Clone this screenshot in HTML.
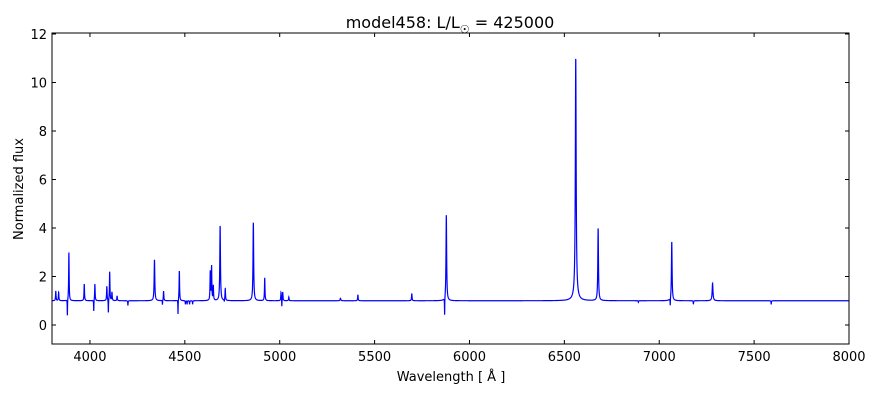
<!DOCTYPE html>
<html><head><meta charset="utf-8"><style>
body{margin:0;background:#fff;}
svg{display:block;font-family:"DejaVu Sans","Liberation Sans",sans-serif;}
</style></head><body>
<svg id="s" width="880" height="400" xmlns="http://www.w3.org/2000/svg">
<rect width="880" height="400" fill="#fff"/>
<g id="plot"></g>
<rect x="52" y="33" width="797" height="311" fill="none" stroke="#000" stroke-width="1"/>
<g id="ticks" stroke="#000" stroke-width="1"></g>
<g id="labels" font-size="13" fill="#000"></g>
<text x="450" y="28" text-anchor="middle" font-size="16">model458: L/L<tspan font-size="11" dy="5">☉</tspan><tspan dy="-5"> = 425000</tspan></text>
<text x="451" y="381" text-anchor="middle" font-size="13">Wavelength [ Å ]</text>
<text transform="translate(23,189) rotate(-90)" text-anchor="middle" font-size="13">Normalized flux</text>
</svg>
<script>
var X=function(l){return 52+(l-3800)*797/4200};
var Y=function(f){return 325-f*24.25};
var lines=[[3820,0.4,1.5],[3835,0.35,1.5],[3889,2.0,1.5],[3881,-0.7,0.8],[3970,0.7,1.5],[4026,0.7,1.5],[4020,-0.5,0.8],[4089,0.6,1.5],[4104,1.2,1.5],[4097,-0.6,0.8],[4116,0.35,1.5],[4143,0.2,1.5],[4200,-0.2,1],[4340,1.7,2],[4388,0.4,1.5],[4382,-0.2,0.8],[4464,-0.6,0.8],[4471,1.25,1.5],[4503,-0.15,1],[4512,-0.15,1],[4525,-0.15,1],[4541,-0.15,1],[4634,1.2,1.5],[4641,1.4,1.5],[4650,0.6,1.5],[4686,3.1,2],[4708,-0.1,1],[4713,0.5,1.5],[4861,3.25,2],[4921,0.95,1.5],[5007,0.35,1.5],[5016,0.35,1.5],[5011,-0.3,0.8],[5048,0.15,1.5],[5320,0.1,2],[5412,0.25,1.5],[5696,0.3,1.5],[5878,3.55,2],[5869,-0.75,0.8],[6560,9.8,2.5],[6560,0.25,12],[6678,3.0,2],[6890,-0.07,1],[7066,2.45,2],[7058,-0.35,0.8],[7180,-0.15,1],[7281,0.72,2.5],[7590,-0.15,1]];
var d="";
for(var x=52;x<=849;x+=0.1){var l=3800+(x-52)*4200/797;var f=1;
for(var i=0;i<lines.length;i++){var L=lines[i],dl=l-L[0];f+=L[1]*L[2]*L[2]/(dl*dl+L[2]*L[2]);}
d+=(d?"L":"M")+x.toFixed(2)+" "+Y(f).toFixed(2);}
var ns="http://www.w3.org/2000/svg";
var p=document.createElementNS(ns,"path");p.setAttribute("d",d);p.setAttribute("fill","none");p.setAttribute("stroke","#0000ff");p.setAttribute("stroke-width","1.2");
var cp=document.createElementNS(ns,"clipPath");cp.id="c";var r=document.createElementNS(ns,"rect");r.setAttribute("x",52);r.setAttribute("y",33);r.setAttribute("width",797);r.setAttribute("height",311);cp.appendChild(r);
var g=document.getElementById("plot");g.appendChild(cp);p.setAttribute("clip-path","url(#c)");g.appendChild(p);
var t="",lb="";
for(var v=4000;v<=8000;v+=500){var x=X(v);t+='<line x1="'+x+'" y1="344" x2="'+x+'" y2="340"/><line x1="'+x+'" y1="33" x2="'+x+'" y2="37"/>';lb+='<text x="'+x+'" y="361" text-anchor="middle">'+v+'</text>';}
for(var v=0;v<=12;v+=2){var y=Y(v);t+='<line x1="52" y1="'+y+'" x2="56" y2="'+y+'"/><line x1="849" y1="'+y+'" x2="845" y2="'+y+'"/>';lb+='<text x="47" y="'+(y+5)+'" text-anchor="end">'+v+'</text>';}
document.getElementById("ticks").innerHTML=t;document.getElementById("labels").innerHTML=lb;
</script>
</body></html>
